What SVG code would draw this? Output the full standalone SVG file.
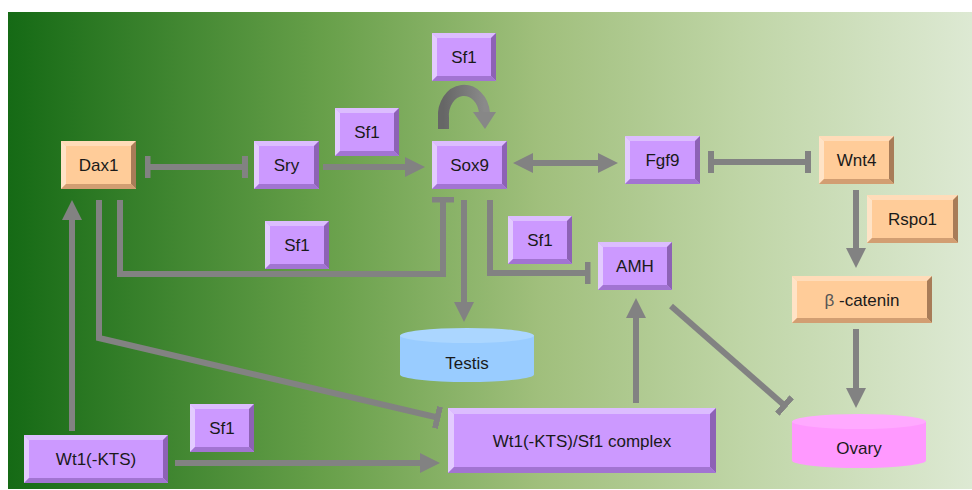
<svg xmlns="http://www.w3.org/2000/svg" width="972" height="490" viewBox="0 0 972 490">
<defs>
<linearGradient id="bg" x1="0" y1="0" x2="1" y2="0">
<stop offset="0" stop-color="#156a15"/>
<stop offset="0.33" stop-color="#68a04a"/>
<stop offset="0.55" stop-color="#a0bf7c"/>
<stop offset="0.76" stop-color="#bfd5a6"/>
<stop offset="1" stop-color="#dde9d3"/>
</linearGradient>
<linearGradient id="loopg" x1="0" y1="0" x2="1" y2="0">
<stop offset="0" stop-color="#666"/>
<stop offset="1" stop-color="#8a8a8a"/>
</linearGradient>
<marker id="arr" markerUnits="userSpaceOnUse" markerWidth="20" markerHeight="20" refX="2" refY="10" orient="auto-start-reverse" viewBox="0 0 20 20"><path d="M0,0 L20,10 L0,20 z" fill="#828282"/></marker>
<marker id="bar" markerUnits="userSpaceOnUse" markerWidth="6" markerHeight="22" refX="3" refY="11" orient="auto" viewBox="0 0 6 22"><rect width="6" height="22" fill="#828282"/></marker>
</defs>
<style>
.c{fill:none;stroke:#828282;stroke-width:6}
.p .f{fill:#cc99ff}.p .t{fill:#dcbdff}.p .l{fill:#e3cbff}.p .r{fill:#8d62b5}.p .b{fill:#a274d2}
.o .f{fill:#ffcc99}.o .t{fill:#ffdcb9}.o .l{fill:#ffe3c6}.o .r{fill:#a87c58}.o .b{fill:#d29e72}
text{font-family:"Liberation Sans",Arial,sans-serif;font-size:17px;fill:#1a1a1a;text-anchor:middle}
</style>
<rect x="8" y="12" width="964" height="477" fill="url(#bg)"/>
<g id="connectors">
<path class="c" d="M147.5,167 H245" marker-start="url(#bar)" marker-end="url(#bar)"/>
<path class="c" d="M323,167 H407" marker-end="url(#arr)"/>
<path class="c" d="M531,163 H600" marker-start="url(#arr)" marker-end="url(#arr)"/>
<path class="c" d="M711,162 H808" marker-start="url(#bar)" marker-end="url(#bar)"/>
<path class="c" d="M120,200 V274 H443 V199.5" marker-end="url(#bar)"/>
<path class="c" d="M99,200 V338 L437.5,417.5" marker-end="url(#bar)"/>
<path class="c" d="M72,431 V218" marker-end="url(#arr)"/>
<path class="c" d="M175,463 H422" marker-end="url(#arr)"/>
<path class="c" d="M464,200 V304" marker-end="url(#arr)"/>
<path class="c" d="M490,200 V273 H587.5" marker-end="url(#bar)"/>
<path class="c" d="M636,403 V316" marker-end="url(#arr)"/>
<path class="c" d="M671,306 L784.5,405.5" marker-end="url(#bar)"/>
<path class="c" d="M856,190 V250" marker-end="url(#arr)"/>
<path class="c" d="M856,329 V390" marker-end="url(#arr)"/>
<g id="sox9-loop">
<path d="M443.5,129 V118 A20.5,25 0 0 1 484.5,113" fill="none" stroke="url(#loopg)" stroke-width="11"/>
<polygon points="473,112 496,112 485,129" fill="#878787"/>
</g>
</g>
<g id="dax1" class="o"><rect class="f" x="61" y="141" width="75" height="48"/><polygon class="t" points="61,141 136,141 131,146 66,146"/><polygon class="l" points="61,141 66,146 66,184 61,189"/><polygon class="r" points="136,141 136,189 131,184 131,146"/><polygon class="b" points="61,189 66,184 131,184 136,189"/><text x="98.5" y="171">Dax1</text></g>
<g id="sry" class="p"><rect class="f" x="254" y="141" width="65" height="48"/><polygon class="t" points="254,141 319,141 314,146 259,146"/><polygon class="l" points="254,141 259,146 259,184 254,189"/><polygon class="r" points="319,141 319,189 314,184 314,146"/><polygon class="b" points="254,189 259,184 314,184 319,189"/><text x="286.5" y="171">Sry</text></g>
<g id="sf1-a" class="p"><rect class="f" x="335" y="108" width="64" height="48"/><polygon class="t" points="335,108 399,108 394,113 340,113"/><polygon class="l" points="335,108 340,113 340,151 335,156"/><polygon class="r" points="399,108 399,156 394,151 394,113"/><polygon class="b" points="335,156 340,151 394,151 399,156"/><text x="367" y="138">Sf1</text></g>
<g id="sf1-top" class="p"><rect class="f" x="432" y="33" width="64" height="48"/><polygon class="t" points="432,33 496,33 491,38 437,38"/><polygon class="l" points="432,33 437,38 437,76 432,81"/><polygon class="r" points="496,33 496,81 491,76 491,38"/><polygon class="b" points="432,81 437,76 491,76 496,81"/><text x="464" y="63">Sf1</text></g>
<g id="sox9" class="p"><rect class="f" x="432" y="141" width="75" height="48"/><polygon class="t" points="432,141 507,141 502,146 437,146"/><polygon class="l" points="432,141 437,146 437,184 432,189"/><polygon class="r" points="507,141 507,189 502,184 502,146"/><polygon class="b" points="432,189 437,184 502,184 507,189"/><text x="469.5" y="171">Sox9</text></g>
<g id="fgf9" class="p"><rect class="f" x="625" y="136" width="75" height="48"/><polygon class="t" points="625,136 700,136 695,141 630,141"/><polygon class="l" points="625,136 630,141 630,179 625,184"/><polygon class="r" points="700,136 700,184 695,179 695,141"/><polygon class="b" points="625,184 630,179 695,179 700,184"/><text x="662.5" y="166">Fgf9</text></g>
<g id="wnt4" class="o"><rect class="f" x="819" y="136" width="75" height="48"/><polygon class="t" points="819,136 894,136 889,141 824,141"/><polygon class="l" points="819,136 824,141 824,179 819,184"/><polygon class="r" points="894,136 894,184 889,179 889,141"/><polygon class="b" points="819,184 824,179 889,179 894,184"/><text x="856.5" y="166">Wnt4</text></g>
<g id="rspo1" class="o"><rect class="f" x="867" y="195" width="91" height="48"/><polygon class="t" points="867,195 958,195 953,200 872,200"/><polygon class="l" points="867,195 872,200 872,238 867,243"/><polygon class="r" points="958,195 958,243 953,238 953,200"/><polygon class="b" points="867,243 872,238 953,238 958,243"/><text x="912.5" y="225">Rspo1</text></g>
<g id="sf1-b" class="p"><rect class="f" x="265" y="221" width="64" height="48"/><polygon class="t" points="265,221 329,221 324,226 270,226"/><polygon class="l" points="265,221 270,226 270,264 265,269"/><polygon class="r" points="329,221 329,269 324,264 324,226"/><polygon class="b" points="265,269 270,264 324,264 329,269"/><text x="297" y="251">Sf1</text></g>
<g id="sf1-c" class="p"><rect class="f" x="508" y="216" width="64" height="48"/><polygon class="t" points="508,216 572,216 567,221 513,221"/><polygon class="l" points="508,216 513,221 513,259 508,264"/><polygon class="r" points="572,216 572,264 567,259 567,221"/><polygon class="b" points="508,264 513,259 567,259 572,264"/><text x="540" y="246">Sf1</text></g>
<g id="amh" class="p"><rect class="f" x="598" y="242" width="74" height="48"/><polygon class="t" points="598,242 672,242 667,247 603,247"/><polygon class="l" points="598,242 603,247 603,285 598,290"/><polygon class="r" points="672,242 672,290 667,285 667,247"/><polygon class="b" points="598,290 603,285 667,285 672,290"/><text x="635" y="272">AMH</text></g>
<g id="beta-catenin" class="o"><rect class="f" x="792" y="276" width="140" height="47"/><polygon class="t" points="792,276 932,276 927,281 797,281"/><polygon class="l" points="792,276 797,281 797,318 792,323"/><polygon class="r" points="932,276 932,323 927,318 927,281"/><polygon class="b" points="792,323 797,318 927,318 932,323"/><text x="862" y="305.5"><tspan fill="#555">β</tspan> -catenin</text></g>
<g id="complex" class="p"><rect class="f" x="448" y="408" width="268" height="65"/><polygon class="t" points="448,408 716,408 710,414 454,414"/><polygon class="l" points="448,408 454,414 454,467 448,473"/><polygon class="r" points="716,408 716,473 710,467 710,414"/><polygon class="b" points="448,473 454,467 710,467 716,473"/><text x="582" y="446.5">Wt1(-KTS)/Sf1 complex</text></g>
<g id="sf1-d" class="p"><rect class="f" x="190" y="404" width="64" height="48"/><polygon class="t" points="190,404 254,404 249,409 195,409"/><polygon class="l" points="190,404 195,409 195,447 190,452"/><polygon class="r" points="254,404 254,452 249,447 249,409"/><polygon class="b" points="190,452 195,447 249,447 254,452"/><text x="222" y="434">Sf1</text></g>
<g id="wt1" class="p"><rect class="f" x="24" y="435" width="144" height="48"/><polygon class="t" points="24,435 168,435 163,440 29,440"/><polygon class="l" points="24,435 29,440 29,478 24,483"/><polygon class="r" points="168,435 168,483 163,478 163,440"/><polygon class="b" points="24,483 29,478 163,478 168,483"/><text x="96" y="465">Wt1(-KTS)</text></g>
<g id="testis"><path d="M400,335.5 V374.5 A67,7.5 0 0 0 534,374.5 V335.5 Z" fill="#99ccff"/><ellipse cx="467" cy="335.5" rx="67" ry="7.5" fill="#abd6ff"/><text x="467" y="369">Testis</text></g>
<g id="ovary"><path d="M792,421.5 V460.5 A67,7.5 0 0 0 926,460.5 V421.5 Z" fill="#ff99ff"/><ellipse cx="859" cy="421.5" rx="67" ry="7.5" fill="#ffaaff"/><text x="859" y="454">Ovary</text></g>
</svg>
